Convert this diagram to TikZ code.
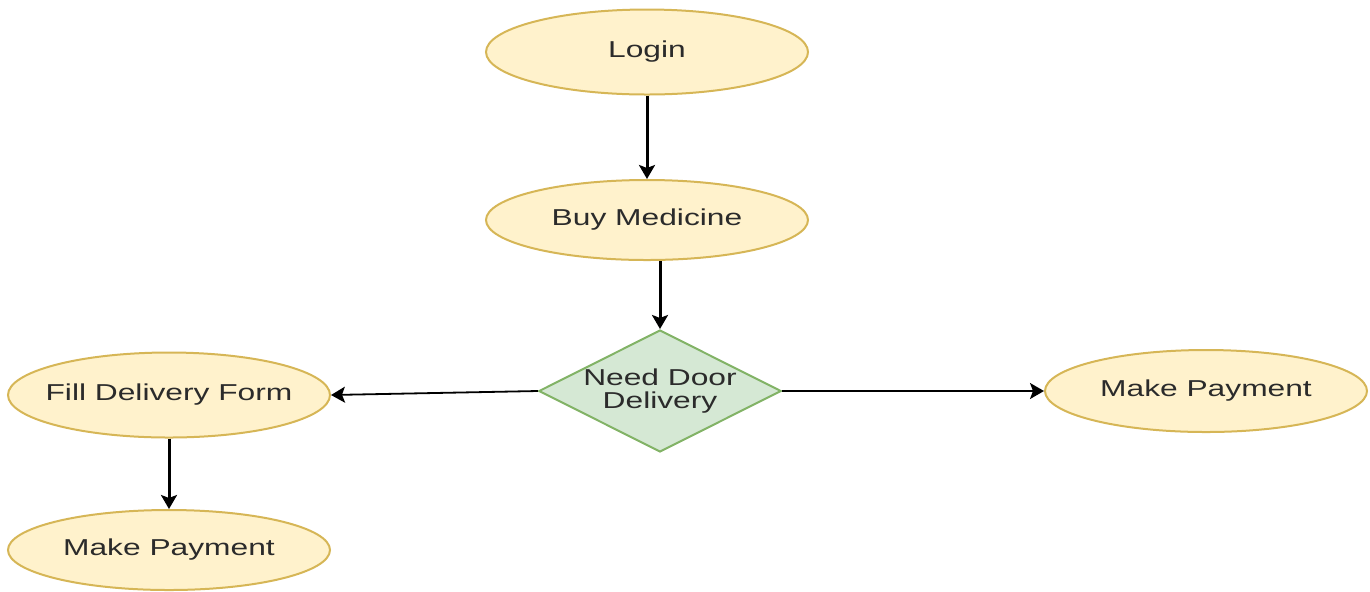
\documentclass[tikz,border=0pt]{standalone}
\usepackage{fontspec}
\setmainfont{Liberation Sans}[FakeStretch=1.38]
\usepackage{tikz}
\usetikzlibrary{shapes.geometric, arrows.meta}
\definecolor{procfill}{HTML}{FFF2CC}
\definecolor{procline}{HTML}{D6B656}
\definecolor{askfill}{HTML}{D5E8D4}
\definecolor{askline}{HTML}{82B366}
\definecolor{textgray}{HTML}{2B2B2B}

\begin{document}
\begin{tikzpicture}[x=0.5pt,y=-0.5pt,
  every node/.style={font=\fontsize{11.5}{11.5}\selectfont,text=textgray},
  proc/.style={draw=procline,fill=procfill,line width=1pt,shape=ellipse,inner xsep=-10pt,inner ysep=0pt,minimum width=161pt},
  ask/.style={draw=askline,fill=askfill,line width=1pt,shape=diamond,aspect=2,inner sep=0pt,minimum width=119pt,minimum height=61pt,align=center},
  flow/.style={-{Stealth[length=7pt,width=8pt,inset=1.5pt]},line width=1.5pt}]
  \useasboundingbox (0,0) rectangle (1370,591);
  \path (647,52) node[proc,minimum height=42.5pt] (login) {Login}
  (647,220) node[proc,minimum height=40pt] (buy) {Buy Medicine}
  (660,391) node[ask] (need) {Need Door\\Delivery}
  (169,395) node[proc,minimum height=42.5pt] (fill) {Fill Delivery Form}
  (169,550) node[proc,minimum height=40pt] (pay1) {Make Payment}
  (1206,391) node[proc,minimum height=41pt] (pay2) {Make Payment};
  \draw[flow] (login) -- (buy);
  \draw[flow] (buy.south -| need.north) -- (need.north);
  \draw[flow,line width=0.9pt] (need.west) -- (fill.east);
  \draw[flow,line width=0.9pt] (need.east) -- (pay2.west);
  \draw[flow] (fill) -- (pay1);
  \end{tikzpicture}
\end{document}
